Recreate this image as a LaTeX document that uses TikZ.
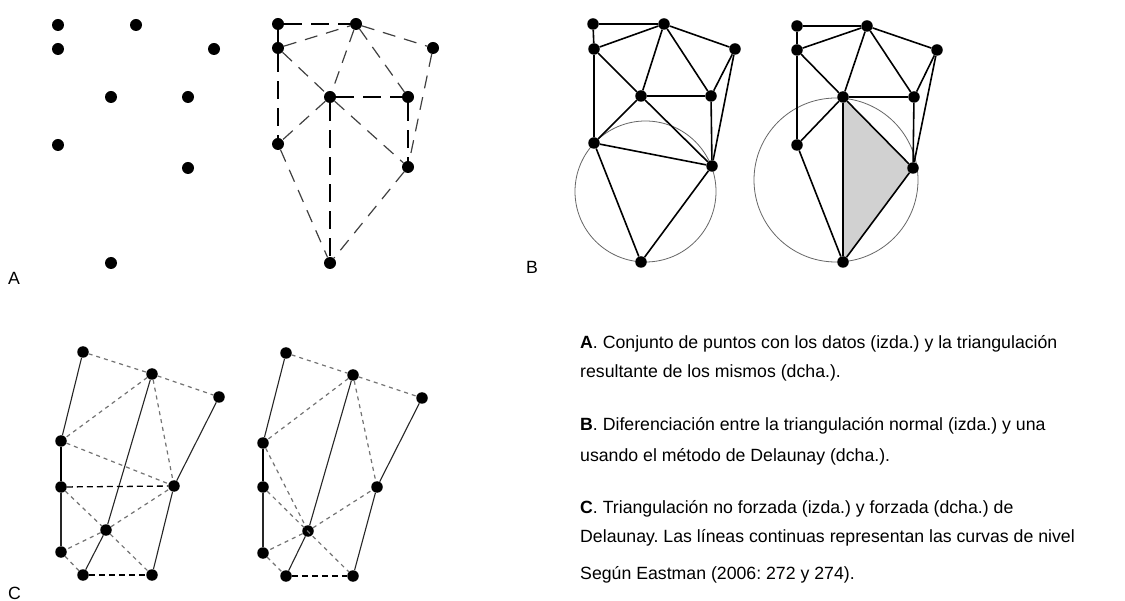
\documentclass[tikz,border=0pt]{standalone}
\usepackage{fontspec}
\setmainfont{Liberation Sans}
\frenchspacing
\begin{document}
\begin{tikzpicture}[x=1pt,y=-1pt,
  dot/.style={circle,fill=black,inner sep=0pt,minimum size=11.5pt},
  bigdot/.style={circle,fill=black,inner sep=0pt,minimum size=12pt},
  adash/.style={draw=black!75,line width=1.2pt,dash pattern=on 13pt off 9pt},
  adashthick/.style={draw=black,line width=1.9pt,dash pattern=on 18pt off 9pt},
  bline/.style={draw=black,line width=1.6pt},
  bcirc/.style={draw=black!60,line width=0.8pt},
  csolid/.style={draw=black!85,line width=1.1pt},
  cthick/.style={draw=black,line width=2.2pt},
  cdash/.style={draw=black!55,line width=1.2pt,dash pattern=on 4pt off 4pt},
  cbdash/.style={draw=black,line width=1.3pt,dash pattern=on 6pt off 4pt},
  lbl/.style={anchor=base west,inner sep=0pt,font=\fontsize{17.7}{21}\selectfont},
  txt/.style={anchor=base west,inner sep=0pt,font=\fontsize{17.7}{21}\selectfont}]
\useasboundingbox (0,0) rectangle (1125,601);
% ---------- A left ----------
\node[bigdot] (a1) at (58,25) {};
\node[bigdot] (a2) at (136,25) {};
\node[bigdot] (a3) at (58,49) {};
\node[bigdot] (a4) at (214,49) {};
\node[bigdot] (a5) at (111,97) {};
\node[bigdot] (a6) at (188,97) {};
\node[bigdot] (a7) at (58,145) {};
\node[bigdot] (a8) at (188,168) {};
\node[bigdot] (a9) at (111,263) {};
% ---------- A right ----------
\node[bigdot] (r1) at (278,24) {};
\node[bigdot] (r2) at (356,24) {};
\node[bigdot] (r3) at (278,48) {};
\node[bigdot] (r4) at (433,48) {};
\node[bigdot] (r5) at (330,97) {};
\node[bigdot] (r6) at (408,97) {};
\node[bigdot] (r7) at (278,144) {};
\node[bigdot] (r8) at (408,167) {};
\node[bigdot] (r9) at (330,263) {};
\draw[adashthick] (r1) -- (r2);
\draw[line width=1.9pt] (r1) -- (r3);
\draw[adashthick] (r3) -- (r7);
\draw[adashthick] (r5) -- (r9);
\draw[adashthick] (r5) -- (r6);
\draw[adashthick] (r6) -- (r8);
\draw[adash] (r3) -- (r2);
\draw[adash] (r3) -- (r5);
\draw[adash] (r2) -- (r5);
\draw[adash] (r2) -- (r6);
\draw[adash] (r2) -- (r4);
\draw[adash] (r5) -- (r7);
\draw[adash] (r5) -- (r8);
\draw[adash] (r4) -- (r8);
\draw[adash] (r7) -- (r9);
\draw[adash] (r8) -- (r9);
\node[lbl] (la) at (8,285) {A};
% ---------- B left ----------
\coordinate (bc) at (645.5,191.5);
\draw[bcirc] (bc) circle (70.5);
\node[dot] (b1) at (593,24) {};
\node[dot] (b2) at (664,24) {};
\node[dot] (b3) at (594,49) {};
\node[dot] (b4) at (735,49) {};
\node[dot] (b5) at (641,96) {};
\node[dot] (b6) at (711,96) {};
\node[dot] (b7) at (594,143) {};
\node[dot] (b8) at (712,166) {};
\node[dot] (b9) at (641,262) {};
\foreach \u/\v in {b1/b2,b1/b3,b3/b7,b2/b3,b2/b5,b2/b6,b2/b4,b3/b5,b5/b6,b4/b6,b4/b8,b6/b8,b5/b7,b5/b8,b7/b8,b7/b9,b8/b9}
  \draw[bline] (\u) -- (\v);
\node[lbl] (lb) at (526,274) {B};
% ---------- B right ----------
\coordinate (cc) at (836,180);
\fill[black!18] (843,97) -- (913,168) -- (843,262) -- cycle;
\draw[bcirc] (cc) circle (82);
\node[dot] (c1) at (797,26) {};
\node[dot] (c2) at (867,26) {};
\node[dot] (c3) at (797,50) {};
\node[dot] (c4) at (937,50) {};
\node[dot] (c5) at (843,97) {};
\node[dot] (c6) at (914,97) {};
\node[dot] (c7) at (797,145) {};
\node[dot] (c8) at (913,168) {};
\node[dot] (c9) at (843,262) {};
\foreach \u/\v in {c1/c2,c1/c3,c3/c7,c2/c3,c2/c5,c2/c6,c2/c4,c3/c5,c5/c6,c4/c6,c4/c8,c6/c8,c5/c7,c5/c9,c5/c8,c7/c9,c8/c9}
  \draw[bline] (\u) -- (\v);
% ---------- C left ----------
\node[dot] (d1) at (83,352) {};
\node[dot] (d2) at (152,374) {};
\node[dot] (d3) at (219,397) {};
\node[dot] (d4) at (61,441) {};
\node[dot] (d5) at (61,487) {};
\node[dot] (d6) at (174,486) {};
\node[dot] (d7) at (106,530) {};
\node[dot] (d8) at (61,552) {};
\node[dot] (d9) at (83,575) {};
\node[dot] (d10) at (152,575) {};
\foreach \u/\v in {d1/d4,d5/d8,d2/d7,d7/d9,d3/d6,d6/d10}
  \draw[csolid] (\u) -- (\v);
\draw[cthick] (d4) -- (d5);
\foreach \u/\v in {d1/d2,d2/d3,d2/d4,d2/d6,d4/d6,d5/d7,d7/d6,d7/d8,d7/d10,d8/d9}
  \draw[cdash] (\u) -- (\v);
\draw[cbdash] (d5) -- (d6);
\draw[cbdash] (d9) -- (d10);
\node[lbl] (lc) at (8,599) {C};
% ---------- C right ----------
\node[dot] (e1) at (286,353) {};
\node[dot] (e2) at (353,375) {};
\node[dot] (e3) at (422,398) {};
\node[dot] (e4) at (263,443) {};
\node[dot] (e5) at (263,487) {};
\node[dot] (e6) at (377,487) {};
\node[dot] (e7) at (308,531) {};
\node[dot] (e8) at (263,553) {};
\node[dot] (e9) at (286,576) {};
\node[dot] (e10) at (353,576) {};
\foreach \u/\v in {e1/e4,e5/e8,e2/e7,e7/e9,e3/e6,e6/e10}
  \draw[csolid] (\u) -- (\v);
\draw[cthick] (e4) -- (e5);
\foreach \u/\v in {e1/e2,e2/e3,e2/e4,e2/e6,e4/e7,e5/e10,e7/e6,e7/e8,e8/e9}
  \draw[cdash] (\u) -- (\v);
\draw[cbdash] (e9) -- (e10);
% ---------- caption ----------
\node[txt] (t1) at (580,349) {\textbf{A}. Conjunto de puntos con los datos (izda.) y la triangulación};
\node[txt] (t2) at (580,378) {resultante de los mismos (dcha.).};
\node[txt] (t3) at (580,431) {\textbf{B}. Diferenciación entre la triangulación normal (izda.) y una};
\node[txt] (t4) at (580,461) {usando el método de Delaunay (dcha.).};
\node[txt] (t5) at (580,513) {\textbf{C}. Triangulación no forzada (izda.) y forzada (dcha.) de};
\node[txt] (t6) at (580,542) {Delaunay. Las líneas continuas representan las curvas de nivel};
\node[txt] (t7) at (580,579) {Según Eastman (2006: 272 y 274).};
\end{tikzpicture}
\end{document}
